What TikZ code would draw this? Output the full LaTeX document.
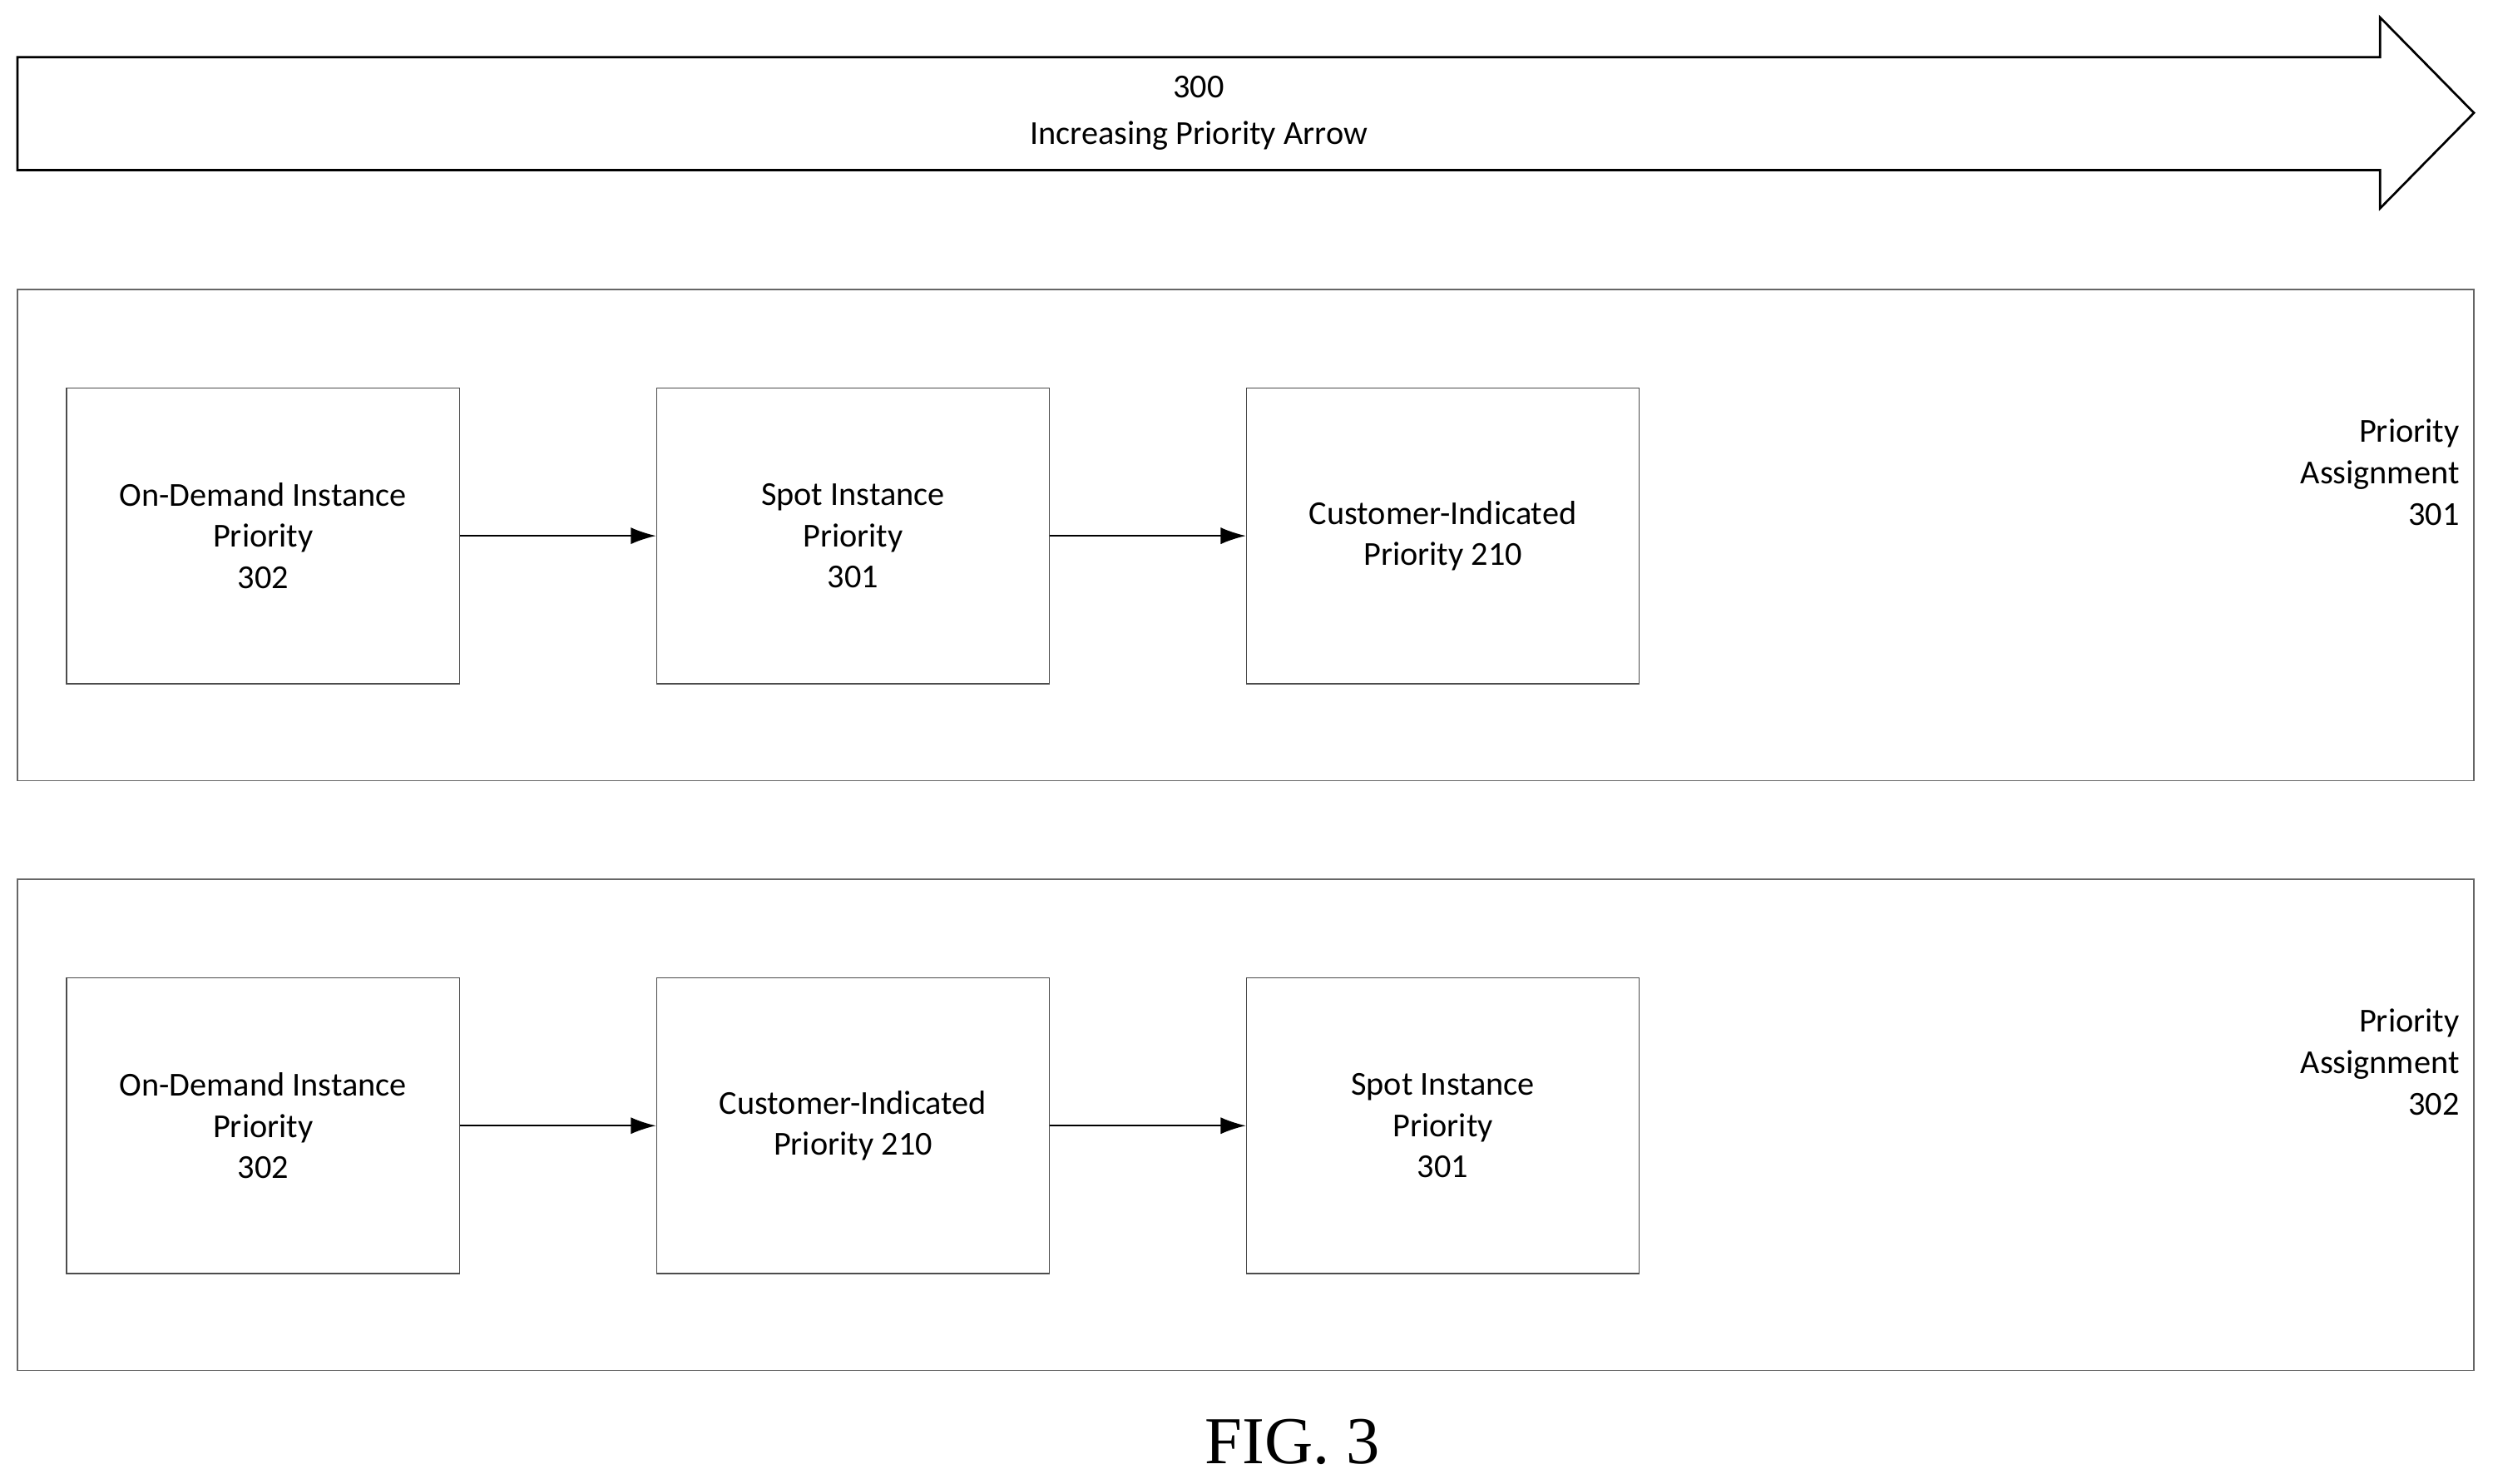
\documentclass[tikz,border=0pt]{standalone}
\usepackage{fontspec}
\setmainfont{Carlito}
\newfontfamily\figfont{Liberation Serif}
\usetikzlibrary{arrows.meta}
\begin{document}
\begin{tikzpicture}[x=0.02cm,y=-0.02cm,
  box/.style={draw=black!70,line width=0.5pt,minimum width=247*0.02cm,minimum height=186*0.02cm,align=center,font=\fontsize{12}{14.8}\selectfont,inner sep=0pt},
  panel/.style={draw=black!60,line width=0.5pt},
  conn/.style={-{Latex[length=9pt,width=6pt]},line width=0.5pt},
  lab/.style={align=right,anchor=east,font=\fontsize{12}{14.8}\selectfont}]
\useasboundingbox (0,0) rectangle (1568,933);
\draw[line width=0.8pt] (11,36) -- (1497,36) -- (1497,11) -- (1556,71) -- (1497,131) -- (1497,107) -- (11,107) -- cycle;
\node[align=center,font=\fontsize{12}{16.5}\selectfont] (ar) at (754,71) {300\\Increasing Priority Arrow};
\draw[panel] (11,182) rectangle (1556,491);
\draw[panel] (11,553) rectangle (1556,862);
\node[box] (a1) at (165.5,337) {On-Demand Instance\\Priority\\302};
\node[box] (b1) at (536.5,337) {Spot Instance\\Priority\\301};
\node[box] (c1) at (907.5,337) {Customer-Indicated\\Priority 210};
\node[box] (a2) at (165.5,708) {On-Demand Instance\\Priority\\302};
\node[box] (b2) at (536.5,708) {Customer-Indicated\\Priority 210};
\node[box] (c2) at (907.5,708) {Spot Instance\\Priority\\301};
\draw[conn] (a1) -- (b1); \draw[conn] (b1) -- (c1);
\draw[conn] (a2) -- (b2); \draw[conn] (b2) -- (c2);
\node[lab] (p1) at (1553,297) {Priority\\Assignment\\301};
\node[lab] (p2) at (1553,668) {Priority\\Assignment\\302};
\node[font=\figfont\fontsize{24}{28}\selectfont] (fig) at (813,907) {FIG. 3};
\end{tikzpicture}
\end{document}
